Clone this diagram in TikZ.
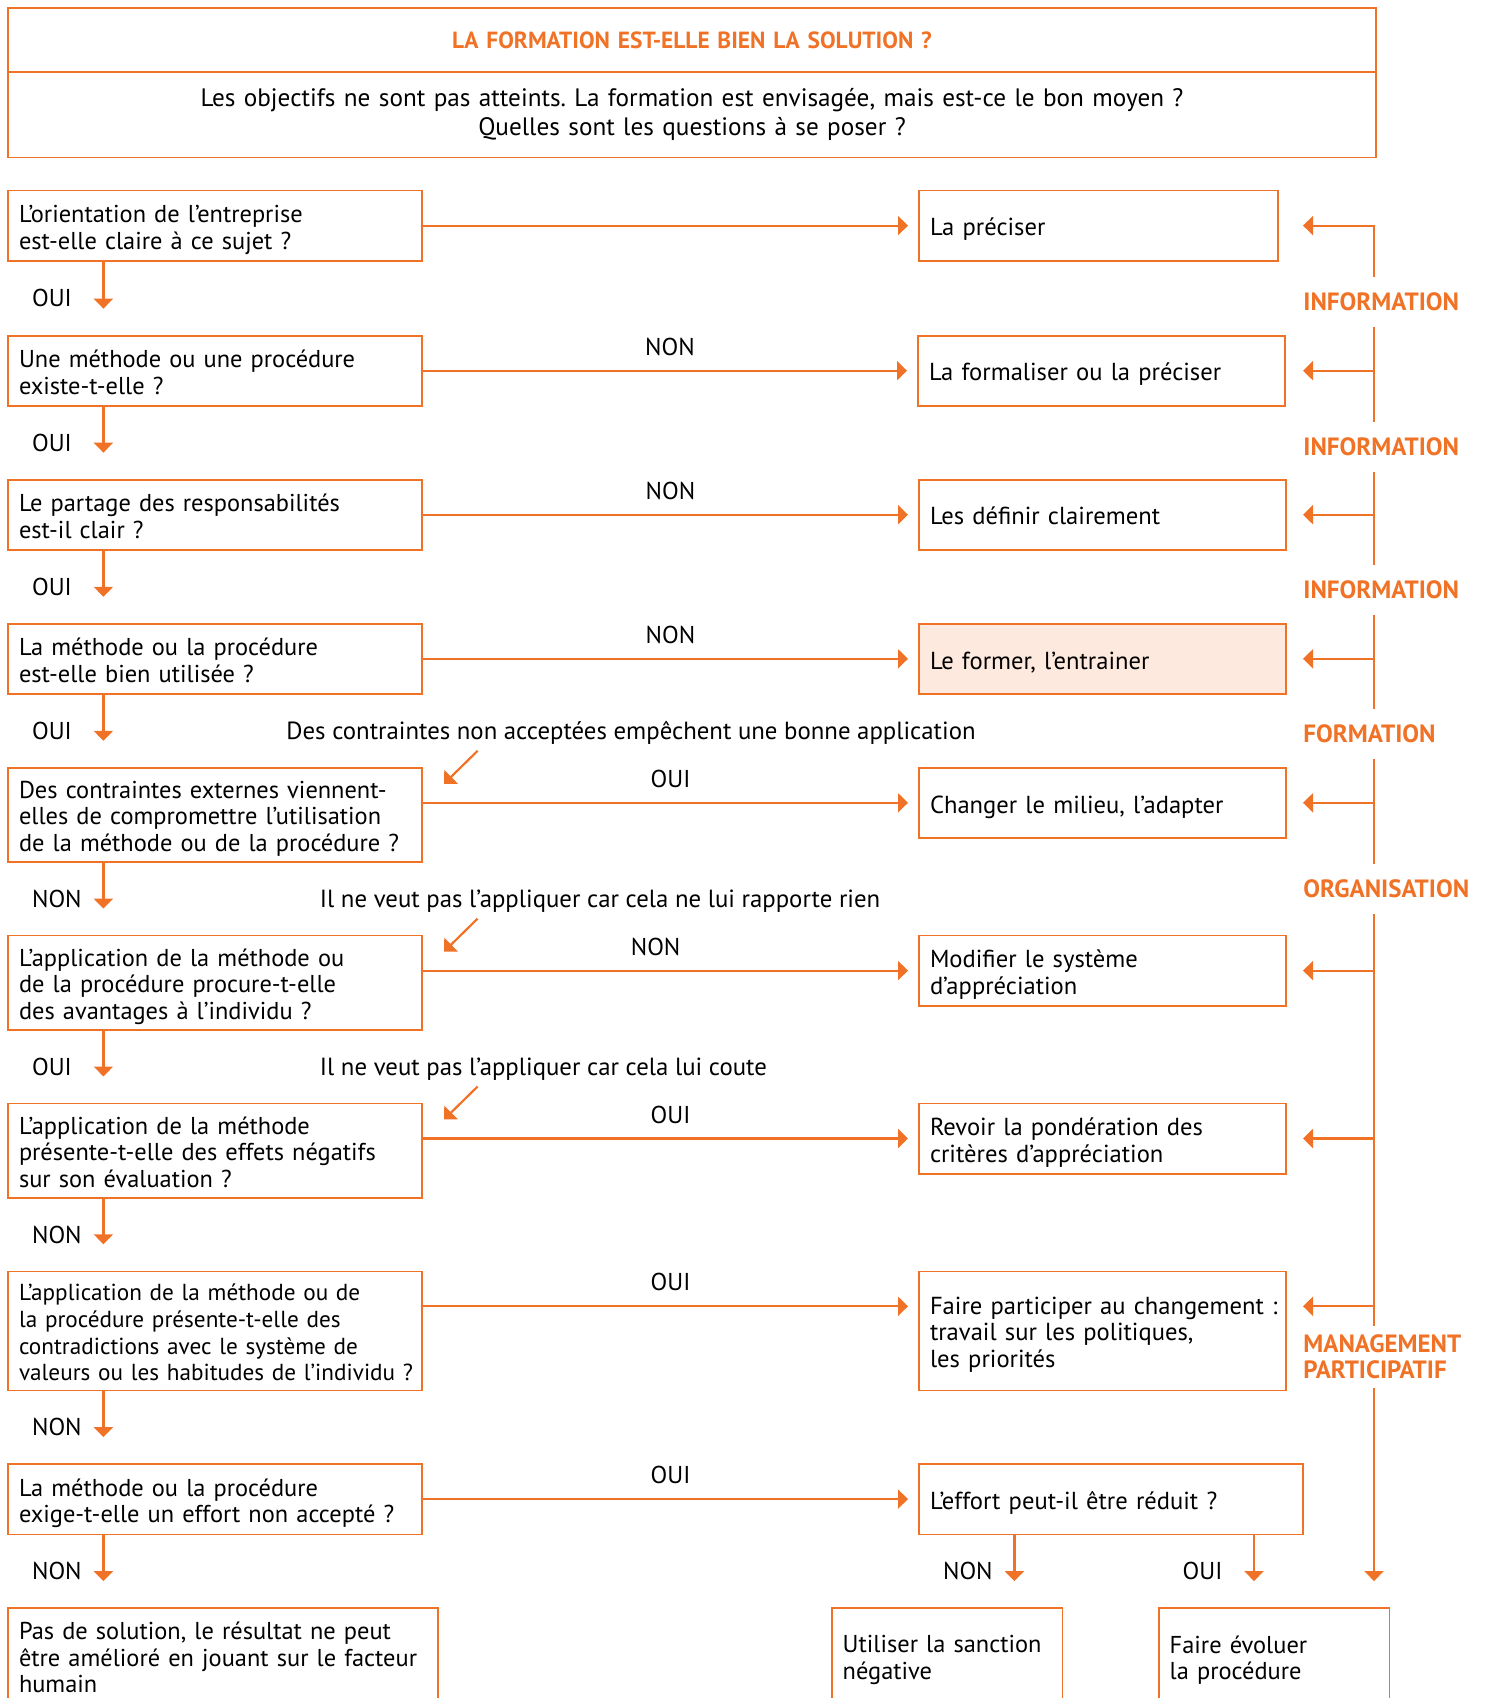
\documentclass[tikz,border=0pt]{standalone}
\usepackage{fontspec}
\setmainfont{PT Sans}
\usetikzlibrary{arrows.meta}
\definecolor{orangeF}{RGB}{240,114,38}
\definecolor{peachF}{RGB}{253,233,221}
\frenchspacing

\begin{document}
\begin{tikzpicture}[x=0.5pt, y=-0.5pt,
    base/.style={font=\fontsize{12.2}{13.3}\selectfont},
    frame/.style={base, draw=orangeF, line width=0.8pt, outer sep=0pt, anchor=north west, align=left,
      inner xsep=5.5pt, inner ysep=0pt, text width=196pt, minimum height=35.2pt},
    qbox/.style={frame, execute at begin node={\rule{0pt}{13.5pt}}, execute at end node={\rule[-3.5pt]{0pt}{3.5pt}}},
    abox/.style={qbox, font=\fontsize{12.3}{13.3}\selectfont, text width=172.5pt},
    arr/.style={draw=orangeF, line width=1.1pt, -{Triangle[width=9.5pt,length=5pt]}},
    hl/.style={base, above=7pt, inner sep=0pt},
    yn/.style={base, anchor=west, inner sep=0pt, xshift=-36.2pt},
    note/.style={font=\fontsize{12.4}{13.3}\selectfont, anchor=west, inner sep=0pt},
    tag/.style={font=\fontsize{12.5}{13}\selectfont\bfseries, text=orangeF, anchor=west, align=left,
      inner sep=0pt, minimum height=25pt}]
  \useasboundingbox (0,0) rectangle (1489,1698);
  \clip (0,0) rectangle (1489,1698);

  \node[frame, text width=673pt, minimum height=32pt, align=center, text=orangeF,
    font=\fontsize{11.7}{13}\selectfont\bfseries] (title) at (8,8) {LA FORMATION EST-ELLE BIEN LA SOLUTION~?};
  \node[frame, text width=673pt, minimum height=42.7pt, align=center, font=\fontsize{12.6}{14.6}\selectfont] (intro) at (title.south west)
    {Les objectifs ne sont pas atteints. La formation est envisagée, mais est-ce le bon moyen~?\\Quelles sont les questions à se poser~?};

  \node[qbox] (q1) at (8,190.6) {L’orientation de l’entreprise\\est-elle claire à ce sujet~?};
  \node[qbox] (q2) at (8,335.7) {Une méthode ou une procédure\\existe-t-elle~?};
  \node[qbox] (q3) at (8,479.7) {Le partage des responsabilités\\est-il clair~?};
  \node[qbox] (q4) at (8,623.8) {La méthode ou la procédure\\est-elle bien utilisée~?};
  \node[qbox, minimum height=47.1pt] (q5) at (8,767.8) {Des contraintes externes viennent-\\elles de compromettre l’utilisation\\de la méthode ou de la procédure~?};
  \node[qbox, minimum height=47.1pt] (q6) at (8,935.6) {L’application de la méthode ou\\de la procédure procure-t-elle\\des avantages à l’individu~?};
  \node[qbox, minimum height=47.1pt] (q7) at (8,1103.5) {L’application de la méthode\\présente-t-elle des effets négatifs\\sur son évaluation~?};
  \node[qbox, minimum height=59.5pt, font=\fontsize{11.6}{13.3}\selectfont] (q8) at (8,1271.3) {L’application de la méthode ou de\\la procédure présente-t-elle des\\contradictions avec le système de\\\mbox{valeurs ou les habitudes de l’individu ?}};
  \node[qbox] (q9) at (8,1464.1) {La méthode ou la procédure\\exige-t-elle un effort non accepté~?};
  \node[frame, text width=204pt, minimum height=49.5pt] (q10) at (8,1608.1) {Pas de solution, le résultat ne peut\\être amélioré en jouant sur le facteur\\humain};

  \node[abox, text width=168.5pt] (a1) at (919,190.6) {La préciser};
  \node[abox] (a2) at (918,335.7) {La formaliser ou la préciser};
  \node[abox] (a3) at (919,479.7) {Les définir clairement};
  \node[abox, fill=peachF] (a4) at (919,623.8) {Le former, l’entrainer};
  \node[abox] (a5) at (919,767.8) {Changer le milieu, l’adapter};
  \node[abox] (a6) at (919,935.6) {Modifier le système\\d’appréciation};
  \node[abox] (a7) at (919,1103.5) {Revoir la pondération des\\critères d’appréciation};
  \node[abox, minimum height=59.5pt] (a8) at (919,1271.3) {\mbox{Faire participer au changement :}\\travail sur les politiques,\\les priorités};
  \node[abox, text width=181pt] (a9) at (919,1464.1) {L’effort peut-il être réduit~?};
  \node[frame, text width=104.3pt, minimum height=52pt] (b1) at (831.7,1608.1) {Utiliser la sanction\\négative};
  \node[frame, text width=104.3pt, minimum height=52pt] (b2) at (1158.7,1608.1) {Faire évoluer\\la procédure};

  \node[tag] (info1) at (1303,302) {INFORMATION};
  \node[tag] (info2) at (1303,447) {INFORMATION};
  \node[tag] (info3) at (1303,590) {INFORMATION};
  \node[tag] (form) at (1303,734) {FORMATION};
  \node[tag] (orga) at (1303,889) {ORGANISATION};
  \node[tag, minimum height=31pt] (mgmt) at (1303,1357) {MANAGEMENT\\PARTICIPATIF};

  \node[note] (c5) at (286,733) {Des contraintes non acceptées empêchent une bonne application};
  \node[note] (c6) at (319.5,901) {Il ne veut pas l’appliquer car cela ne lui rapporte rien};
  \node[note] (c7) at (319.5,1069) {Il ne veut pas l’appliquer car cela lui coute};

  \coordinate (spine) at (1374,0);
  \foreach \i/\t/\p in {2/NON/.5, 3/NON/.5, 4/NON/.5, 5/OUI/.5, 6/NON/.47, 7/OUI/.5, 8/OUI/.5, 9/OUI/.5} {
    \coordinate (h\i) at ([yshift=-17.5pt]q\i.north east);
    \draw[arr, shorten >=5.5pt] (h\i) -- (h\i -| a\i.west) node[hl, pos=\p] {\t};
  }
  \coordinate (h1) at ([yshift=-17.5pt]q1.north east);
  \draw[arr, shorten >=5.5pt] (h1) -- (h1 -| a1.west);
  \foreach \i/\j/\t in {1/2/OUI, 2/3/OUI, 3/4/OUI, 4/5/OUI, 5/6/NON, 6/7/OUI, 7/8/NON, 8/9/NON, 9/10/NON}
    \draw[arr, shorten >=13.5pt] ([xshift=47.7pt]q\i.south west) -- ([xshift=47.7pt]q\j.north west) node[yn, pos=.5] {\t};
  \foreach \i in {5,6,7}
    \draw[arr] ([shift={(27.8pt,8.5pt)}]q\i.north east) -- ([shift={(11pt,-8pt)}]q\i.north east);

  \draw[arr] (info1.north -| spine) -- (h1 -| spine) -- (h1 -| info1.west);
  \foreach \i in {2,...,8}
    \draw[arr] (h\i -| spine) -- (h\i -| info1.west);
  \draw[orangeF, line width=1.1pt] (info1.south -| spine) -- (info2.north -| spine)
    (info2.south -| spine) -- (info3.north -| spine)
    (info3.south -| spine) -- (form.north -| spine)
    (form.south -| spine) -- (orga.north -| spine)
    (orga.south -| spine) -- (mgmt.north -| spine);
  \draw[arr, shorten >=13.5pt] (mgmt.south -| spine) -- (spine |- q10.north);

  \coordinate (nonfoot) at ([xshift=47.7pt]a9.south west);
  \coordinate (ouifoot) at ([xshift=-24.5pt]a9.south east);
  \draw[arr, shorten >=13.5pt] (nonfoot) -- (nonfoot |- b1.north) node[yn, pos=.5] {NON};
  \draw[arr, shorten >=13.5pt] (ouifoot) -- (ouifoot |- b2.north) node[yn, pos=.5] {OUI};
\end{tikzpicture}
\end{document}
